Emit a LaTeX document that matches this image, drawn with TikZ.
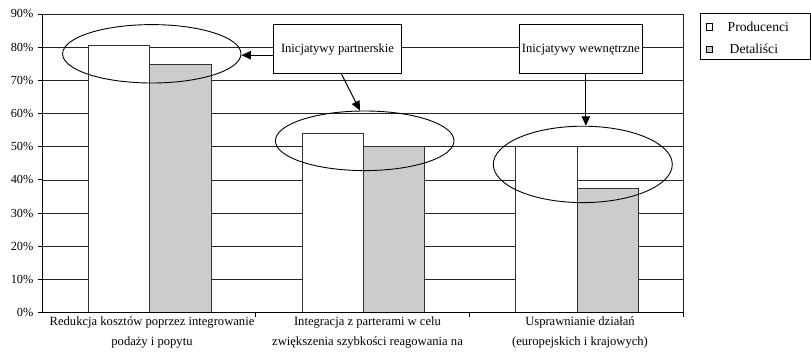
\documentclass[tikz,border=0pt]{standalone}
\usepackage{fontspec}
\setmainfont{Liberation Serif}
\usetikzlibrary{shapes.geometric,arrows.meta}
\definecolor{barfill}{HTML}{CCCCCC}
\begin{document}
\begin{tikzpicture}[x=1pt,y=-1pt,
  every node/.style={font=\fontsize{12.6}{19.4}\selectfont},
  grid/.style={draw=black!85,line width=0.8pt},
  axisline/.style={draw=black,line width=0.9pt},
  bar/.style={draw=black!80,line width=0.8pt},
  prod/.style={bar,fill=white},
  det/.style={bar,fill=barfill},
  ring/.style={ellipse,draw=black,line width=0.9pt,inner sep=0pt},
  labelbox/.style={draw=black,line width=0.9pt,fill=white,minimum height=49pt,inner sep=0pt},
  arr/.style={-{Triangle[length=9.5pt,width=8.5pt]},line width=1pt},
  ytick/.style={anchor=east,inner sep=0pt,font=\fontsize{12.3}{14}\selectfont},
  catlab/.style={anchor=north,align=center,inner sep=0pt},
  legsq/.style={draw=black,line width=0.8pt,minimum size=6.5pt,inner sep=0pt},
  legtext/.style={anchor=west,inner sep=0pt,font=\fontsize{13.6}{16}\selectfont},
]
\useasboundingbox (0,0) rectangle (811,356);
% gridlines
\foreach \p in {10,20,...,90}
  \draw[grid] (42,{312.7-3.319*\p}) -- (683,{312.7-3.319*\p});
\draw[grid] (683,14) -- (683,312.7);
% bars
\foreach \k/\hw/\hg in {0/45.3/64.0, 1/133.5/146.75, 2/146.5/188.2}{
  \pgfmathsetmacro{\xa}{42+213.67*\k+46.5}
  \pgfmathsetmacro{\xb}{\xa+61.3}
  \pgfmathsetmacro{\xc}{\xb+61.3}
  \draw[prod] (\xa,312.7) rectangle (\xb,\hw);
  \draw[det] (\xb,312.7) rectangle (\xc,\hg);
}
% axes
\draw[axisline] (42,14) -- (42,312.7) -- (683,312.7);
\foreach \p in {0,10,...,90}{
  \draw[axisline] (38,{312.7-3.319*\p}) -- (42,{312.7-3.319*\p});
  \node[ytick] (yl\p) at (33.5,{312.7-3.319*\p}) {\p\%};
}
\foreach \x in {255.7,469.3,683}
  \draw[axisline] (\x,312.7) -- (\x,316.5);
% category labels
\node[catlab] (c1) at (152,317) {Redukcja kosztów poprzez integrowanie\\podaży i popytu};
\node[catlab] (c2) at (367.5,317) {Integracja z parterami w celu\\zwiększenia szybkości reagowania na};
\node[catlab] (c3) at (580,317) {Usprawnianie działań\\(europejskich i krajowych)};
% ellipses
\node[ring,minimum width=178.4pt,minimum height=58.4pt] (e1) at (151.8,53.8) {};
\node[ring,minimum width=178.6pt,minimum height=59.6pt] (e2) at (364.7,140.8) {};
\node[ring,minimum width=179pt,minimum height=76.4pt] (e3) at (582.8,164.4) {};
% boxes
\node[labelbox,minimum width=127.6pt] (p1) at (337.5,49.2) {Inicjatywy partnerskie};
\node[labelbox,minimum width=123.7pt] (w1) at (580.85,49.2) {Inicjatywy wewnętrzne};
% arrows
\draw[arr] ([yshift=-6pt]p1.west) -- ([yshift=-6pt]p1.west -| e1.east);
\draw[arr] ([xshift=4pt]p1.south) -- ([xshift=-4.7pt]e2.north);
\draw[arr] ([xshift=5pt]w1.south) -- ([xshift=5pt]w1.south |- e3.north);
% legend
\node[draw=black,line width=0.9pt,minimum width=110pt,minimum height=46pt,inner sep=0pt] (leg) at (755,36.3) {};
\node[legsq,fill=white] (s1) at (709.5,26.7) {};
\node[legsq,fill=barfill] (s2) at (709.5,49.3) {};
\node[legtext] (t1) at (727.5,26.7) {Producenci};
\node[legtext] (t2) at (729.5,49.3) {Detaliści};
\end{tikzpicture}
\end{document}
